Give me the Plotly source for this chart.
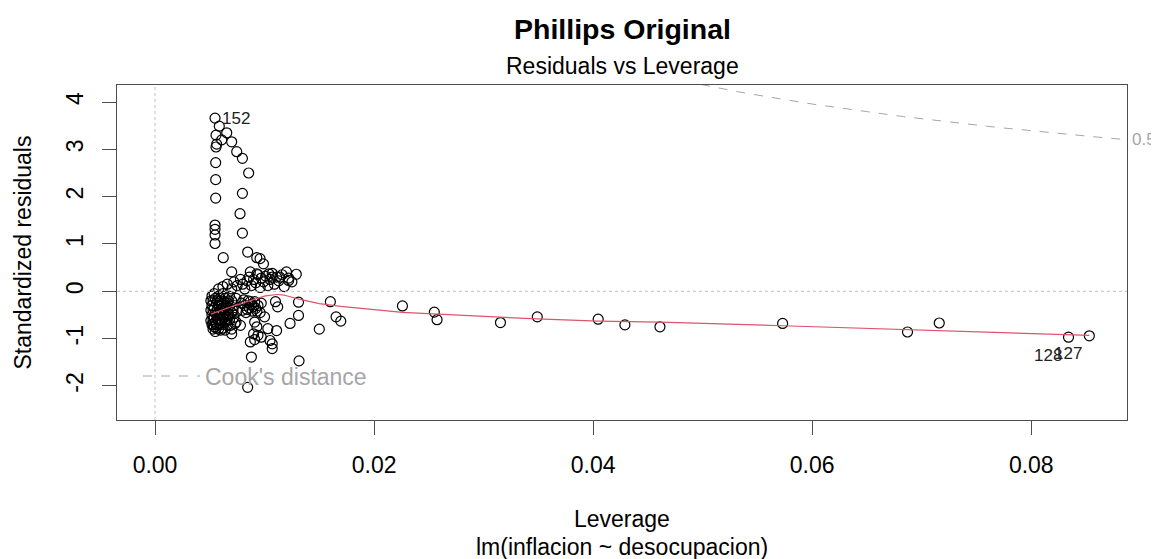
import numpy as np
import plotly.graph_objects as go

# ---------------- data ----------------
leverage = [
    # upper arm / labelled outlier group
    0.00548, 0.00587, 0.00655, 0.00557, 0.00609, 0.00563, 0.00557, 0.00700, 0.00746, 0.00798,
    0.00855, 0.00554, 0.00554, 0.00554, 0.00798, 0.00776, 0.00548, 0.00548, 0.00548, 0.00548,
    0.00798, 0.00623, 0.00846, 0.00929, 0.00959, 0.00990,
    # band just above zero
    0.0070, 0.0087, 0.0093, 0.0104, 0.0107, 0.0120, 0.0129, 0.0114, 0.0122,
    0.0058, 0.0062, 0.0066, 0.0070, 0.0072, 0.0075, 0.0078, 0.0080, 0.0082, 0.0084,
    0.0086, 0.0088, 0.0090, 0.0092, 0.0094, 0.0096, 0.0097, 0.0099, 0.0101, 0.0103,
    0.0105, 0.0107, 0.0109, 0.0111, 0.0113, 0.0116, 0.0118, 0.0122, 0.0125,
    # dense block near minimum leverage
    0.0052, 0.0052, 0.0052, 0.0052, 0.0053, 0.0053, 0.0053, 0.0053,
    0.0054, 0.0054, 0.0054, 0.0054, 0.0055, 0.0055, 0.0055, 0.0055,
    0.0056, 0.0056, 0.0056, 0.0058, 0.0058, 0.0058, 0.0058,
    0.0060, 0.0060, 0.0060, 0.0062, 0.0062, 0.0062, 0.0062,
    0.0064, 0.0064, 0.0064, 0.0066, 0.0066, 0.0066,
    0.0068, 0.0068, 0.0068, 0.0070, 0.0070, 0.0070, 0.0072, 0.0072,
    0.0074, 0.0074, 0.0070,
    0.0051, 0.0051, 0.0051, 0.0057, 0.0057, 0.0057, 0.0059, 0.0059, 0.0061, 0.0061,
    0.0063, 0.0063, 0.0065, 0.0065, 0.0067, 0.0067, 0.0069, 0.0071, 0.0073, 0.0075,
    0.0053, 0.0056, 0.0060, 0.0064,
    # second block
    0.0079, 0.0080, 0.0082, 0.0083, 0.0085, 0.0086, 0.0088, 0.0089, 0.0091, 0.0092,
    0.0094, 0.0096, 0.0097, 0.0081, 0.0084, 0.0087, 0.0090, 0.0093,
    # lower scatter
    0.0110, 0.0112, 0.0100, 0.0091, 0.0093, 0.0078, 0.0103, 0.0111, 0.0090, 0.0094,
    0.0087, 0.0091, 0.0097, 0.0105, 0.0107, 0.0107, 0.0088, 0.00846, 0.01233, 0.0131,
    0.0131, 0.01315, 0.0150, 0.01653, 0.01696, 0.01601,
    # higher leverage points
    0.02259, 0.0255, 0.02575, 0.03154, 0.0349, 0.04046, 0.0429, 0.0461, 0.0573, 0.0687,
    0.0716, 0.0834, 0.0853,
]
std_resid = [
    3.66, 3.49, 3.35, 3.30, 3.20, 3.11, 3.05, 3.16, 2.95, 2.81,
    2.50, 2.72, 2.36, 1.97, 2.07, 1.64, 1.40, 1.31, 1.19, 1.01,
    1.23, 0.71, 0.83, 0.71, 0.69, 0.58,
    0.41, 0.41, 0.37, 0.37, 0.30, 0.41, 0.36, 0.30, 0.23,
    0.05, 0.10, 0.15, 0.05, 0.20, 0.12, 0.25, 0.15, 0.05, 0.22,
    0.30, 0.12, 0.25, 0.18, 0.35, 0.08, 0.28, 0.20, 0.32, 0.12,
    0.25, 0.38, 0.15, 0.30, 0.22, 0.35, 0.10, 0.28, 0.20,
    -0.10, -0.30, -0.50, -0.70, -0.20, -0.40, -0.60, -0.80,
    -0.05, -0.35, -0.55, -0.75, -0.15, -0.45, -0.65, -0.85,
    -0.25, -0.50, -0.70, -0.10, -0.30, -0.60, -0.80,
    -0.20, -0.45, -0.70, -0.05, -0.35, -0.55, -0.78,
    -0.15, -0.40, -0.65, -0.25, -0.50, -0.72,
    -0.10, -0.35, -0.60, -0.20, -0.45, -0.80, -0.30, -0.55,
    -0.15, -0.65, -0.90,
    -0.20, -0.40, -0.62, -0.18, -0.38, -0.58, -0.48, -0.68, -0.28, -0.60,
    -0.22, -0.48, -0.32, -0.58, -0.20, -0.48, -0.72, -0.40, -0.68, -0.42,
    -0.70, -0.78, -0.82, -0.82,
    -0.25, -0.40, -0.30, -0.45, -0.20, -0.35, -0.28, -0.42, -0.22, -0.36,
    -0.30, -0.45, -0.25, -0.18, -0.38, -0.22, -0.32, -0.42,
    -0.22, -0.33, -0.54, -0.65, -0.75, -0.72, -0.79, -0.83, -0.90, -0.93,
    -1.07, -1.02, -0.97, -1.04, -1.11, -1.21, -1.39, -2.03, -0.68, -0.51,
    -0.23, -1.47, -0.80, -0.54, -0.63, -0.22,
    -0.31, -0.44, -0.60, -0.66, -0.54, -0.59, -0.71, -0.75, -0.68, -0.86,
    -0.67, -0.97, -0.94,
]
id_labels = ["152", "128", "127"]
id_leverage = [0.00548, 0.0834, 0.0853]
id_resid = [3.66, -0.97, -0.94]
cook_levels = [0.5, 1.0]
n_params = 2
x_ticks = [0.00, 0.02, 0.04, 0.06, 0.08]
y_ticks = [-2, -1, 0, 1, 2, 3, 4]
x_range = [-0.00347, 0.08874]
y_range = [-2.72, 4.36]

RED = "#DF536B"
GRAY = "#A6A6A6"
AXIS = "#4D4D4D"
FONT = "Liberation Sans, Arial, sans-serif"

# page offset (browser body margin) compensation
OFF = 8
ML, MR, MT, MB = 117 - OFF, 32, 85 - OFF, 139
PW, PH = 1010, 335


def lowess(x, y, f=2 / 3, iters=3):
    order = np.argsort(x, kind="stable")
    x = np.asarray(x, float)[order]
    y = np.asarray(y, float)[order]
    n = len(x)
    ns = max(min(int(f * n + 1e-7), n), 2)
    rng = x[-1] - x[0]
    rw = np.ones(n)
    ys = np.zeros(n)
    for it in range(iters + 1):
        nleft, nright = 0, ns - 1
        for i in range(n):
            xi = x[i]
            while nright < n - 1 and xi - x[nleft] > x[nright + 1] - xi:
                nleft += 1
                nright += 1
            h = max(xi - x[nleft], x[nright] - xi)
            r = np.abs(x - xi)
            w = np.zeros(n)
            h9, h1 = 0.999 * h, 0.001 * h
            m = r <= h9
            w[m] = (1 - (r[m] / h) ** 3) ** 3 if h > 0 else 1.0
            w[r <= h1] = 1.0
            w = w * rw
            if w.sum() <= 0:
                ys[i] = y[i]
                continue
            w = w / w.sum()
            a = np.sum(w * x)
            b = np.sum(w * (x - a) ** 2)
            if h > 0 and np.sqrt(b) > 0.001 * rng:
                wts = w * (1 + (xi - a) * (x - a) / b)
            else:
                wts = w
            ys[i] = np.sum(wts * y)
        if it == iters:
            break
        res = y - ys
        cmad = 6 * np.median(np.abs(res))
        if cmad < 1e-7 * np.mean(np.abs(y)):
            break
        c9, c1 = 0.999 * cmad, 0.001 * cmad
        ar = np.abs(res)
        rw = np.where(ar <= c1, 1.0, np.where(ar <= c9, (1 - (res / cmad) ** 2) ** 2, 0.0))
    return x, ys


def py2paper(py):
    # reference pixel row -> paper y
    return (85 + PH - py) / PH


def px2paper(px):
    return (px - 117) / PW


fig = go.Figure()

# reference dotted lines
fig.add_hline(y=0, line=dict(color="#BEBEBE", width=1, dash="dot"))
fig.add_vline(x=0, line=dict(color="#BEBEBE", width=1, dash="dot"))

# Cook's distance contours
hh = np.linspace(min(leverage) / 100, x_range[1], 101)
for lev in cook_levels:
    cl = np.sqrt(lev * n_params * (1 - hh) / hh)
    fig.add_trace(go.Scatter(x=hh, y=cl, mode="lines", line=dict(color=GRAY, width=1, dash="dash"),
                             hoverinfo="skip", showlegend=False))
    fig.add_trace(go.Scatter(x=hh, y=-cl, mode="lines", line=dict(color=GRAY, width=1, dash="dash"),
                             hoverinfo="skip", showlegend=False))
    yr = np.sqrt(lev * n_params * (1 - x_range[1]) / x_range[1])
    if yr <= y_range[1]:
        fig.add_annotation(x=px2paper(1157), xref="paper", y=yr, yref="y", text=str(lev), showarrow=False,
                           xanchor="right", borderpad=0, font=dict(size=17, color=GRAY, family=FONT))

# points
fig.add_trace(go.Scatter(x=leverage, y=std_resid, mode="markers",
                         marker=dict(symbol="circle-open", size=10, color="black", line=dict(width=1.2)),
                         showlegend=False))

# smoother
sx, sy = lowess(leverage, std_resid)
fig.add_trace(go.Scatter(x=sx, y=sy, mode="lines", line=dict(color=RED, width=1.2), showlegend=False))

# id labels
fig.add_annotation(x=id_leverage[0], y=id_resid[0], text=id_labels[0], showarrow=False,
                   xanchor="left", xshift=5, font=dict(size=17, color="#222", family=FONT))
for lab, lx, ly in zip(id_labels[1:], id_leverage[1:], id_resid[1:]):
    fig.add_annotation(x=lx, y=ly, text=lab, showarrow=False, xanchor="right", xshift=-5, yshift=-18,
                       font=dict(size=17, color="#222", family=FONT))

# Cook's distance legend (bottom-left)
fig.add_shape(type="line", xref="paper", yref="paper", x0=px2paper(143), x1=px2paper(200),
              y0=py2paper(376), y1=py2paper(376), line=dict(color=GRAY, width=1, dash="dash"))
fig.add_annotation(xref="paper", yref="paper", x=px2paper(203), y=py2paper(377),
                   text="Cook's distance", showarrow=False, xanchor="left", yanchor="middle",
                   font=dict(size=23, color=GRAY, family=FONT))

# titles
fig.add_annotation(xref="paper", yref="paper", x=0.5, y=py2paper(29), text="<b>Phillips Original</b>",
                   showarrow=False, yanchor="middle", font=dict(size=28.5, color="black", family=FONT))
fig.add_annotation(xref="paper", yref="paper", x=0.5, y=py2paper(66), text="Residuals vs Leverage",
                   showarrow=False, yanchor="middle", font=dict(size=23, color="black", family=FONT))
fig.add_annotation(xref="paper", yref="paper", x=0.5, y=py2paper(519), text="Leverage",
                   showarrow=False, yanchor="middle", font=dict(size=23, color="black", family=FONT))
fig.add_annotation(xref="paper", yref="paper", x=0.5, y=py2paper(547), text="lm(inflacion ~ desocupacion)",
                   showarrow=False, yanchor="middle", font=dict(size=23, color="black", family=FONT))
fig.add_annotation(xref="paper", yref="paper", x=px2paper(22), y=0.5, text="Standardized residuals",
                   textangle=-90, showarrow=False, xanchor="center", yanchor="middle",
                   font=dict(size=23, color="black", family=FONT))

fig.update_xaxes(range=x_range, tickvals=x_ticks, ticktext=[f"{v:.2f}" for v in x_ticks],
                 showgrid=False, zeroline=False, showline=True, mirror=True, linecolor=AXIS, linewidth=1.3,
                 ticks="outside", ticklen=14, tickcolor=AXIS, tickwidth=1.3, ticklabelstandoff=10,
                 tickfont=dict(size=23, color="black", family=FONT))
fig.update_yaxes(range=y_range, tickvals=y_ticks, ticktext=[str(v) for v in y_ticks], tickangle=-90,
                 showgrid=False, zeroline=False, showline=True, mirror=True, linecolor=AXIS, linewidth=1.3,
                 ticks="outside", ticklen=14, tickcolor=AXIS, tickwidth=1.3, ticklabelstandoff=10,
                 tickfont=dict(size=23, color="black", family=FONT))

fig.update_layout(width=ML + PW + MR, height=MT + PH + MB, margin=dict(l=ML, r=MR, t=MT, b=MB, autoexpand=False),
                  plot_bgcolor="white", paper_bgcolor="white", showlegend=False,
                  font=dict(family=FONT))

fig.write_html("out.html")
